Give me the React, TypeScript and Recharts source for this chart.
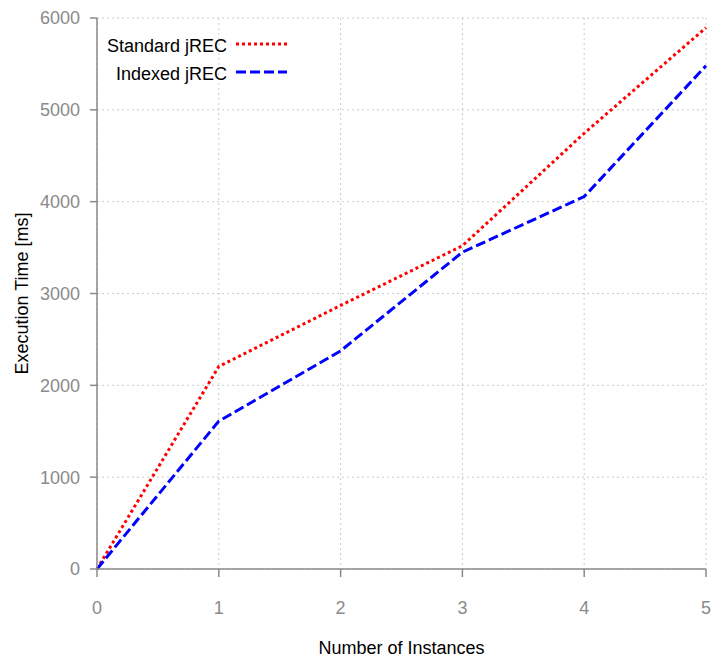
import React from "react";
import { CartesianGrid, Label, Line, LineChart, XAxis, YAxis } from "recharts";

// x 값 (인스턴스 수)
const instances = [0, 1, 2, 3, 4, 5];
// 실행 시간 (ms)
const standardJrec = [0, 2205, 2870, 3520, 4745, 5895];
const indexedJrec = [0, 1610, 2375, 3450, 4055, 5480];
const yTicks = [0, 1000, 2000, 3000, 4000, 5000, 6000];

const data = instances.map((n, i) => ({
  n,
  standard: standardJrec[i],
  indexed: indexedJrec[i],
}));

const FONT = "'Liberation Sans', Arial, Helvetica, sans-serif";
const AXIS_GRAY = "#8a8a8a";

const legendItems = [
  { name: "Standard jREC", color: "#ff0000", dash: "3 3" },
  { name: "Indexed jREC", color: "#0000ff", dash: "10 4" },
];

// 범례는 플롯 영역을 줄이지 않도록 차트 위에 겹쳐서 그림
function ChartLegend() {
  return (
    <div
      style={{
        position: "absolute",
        left: 100,
        top: 33,
        width: 200,
        fontFamily: FONT,
        fontSize: 18,
        color: "#000",
      }}
    >
      {legendItems.map((it) => (
        <div key={it.name} style={{ display: "flex", height: 27.5, lineHeight: "27.5px" }}>
          <span style={{ width: 127, textAlign: "right", whiteSpace: "nowrap" }}>{it.name}</span>
          <svg width={60} height={27} style={{ marginLeft: 9 }}>
            <line x1={0} x2={51} y1={11} y2={11} stroke={it.color} strokeWidth={3} strokeDasharray={it.dash} />
          </svg>
        </div>
      ))}
    </div>
  );
}

export default function App() {
  return (
    <div style={{ position: "absolute", left: 0, top: 0, width: 714, height: 662, background: "#fff" }}>
      <LineChart width={714} height={662} data={data} margin={{ top: 18, right: 8, bottom: 0, left: 0 }}>
        <CartesianGrid stroke="#cccccc" strokeDasharray="2 3" />
        <XAxis
          dataKey="n"
          type="number"
          domain={[0, 5]}
          ticks={instances}
          height={93}
          stroke={AXIS_GRAY}
          strokeWidth={1.5}
          tickSize={8}
          tickMargin={24}
          tick={{ fill: AXIS_GRAY, fontSize: 18, fontFamily: FONT }}
        >
          <Label
            content={({ viewBox }: any) => (
              <text
                x={viewBox.x + viewBox.width / 2}
                y={viewBox.y + 85}
                textAnchor="middle"
                fontSize={18}
                fontFamily={FONT}
                fill="#000"
              >
                Number of Instances
              </text>
            )}
          />
        </XAxis>
        <YAxis
          type="number"
          domain={[0, 6000]}
          ticks={yTicks}
          width={97}
          stroke={AXIS_GRAY}
          strokeWidth={1.5}
          tickSize={7}
          tickMargin={10}
          tick={{ fill: AXIS_GRAY, fontSize: 18, fontFamily: FONT }}
        >
          <Label
            content={({ viewBox }: any) => {
              const cx = viewBox.x + 28;
              const cy = viewBox.y + viewBox.height / 2;
              return (
                <text
                  x={cx}
                  y={cy}
                  transform={`rotate(-90 ${cx} ${cy})`}
                  textAnchor="middle"
                  fontSize={18}
                  fontFamily={FONT}
                  fill="#000"
                >
                  Execution Time [ms]
                </text>
              );
            }}
          />
        </YAxis>
        <Line
          dataKey="standard"
          stroke="#ff0000"
          strokeWidth={3}
          strokeDasharray="3 3"
          dot={false}
          activeDot={false}
          isAnimationActive={false}
        />
        <Line
          dataKey="indexed"
          stroke="#0000ff"
          strokeWidth={3}
          strokeDasharray="10 4"
          dot={false}
          activeDot={false}
          isAnimationActive={false}
        />
      </LineChart>
      <ChartLegend />
    </div>
  );
}
